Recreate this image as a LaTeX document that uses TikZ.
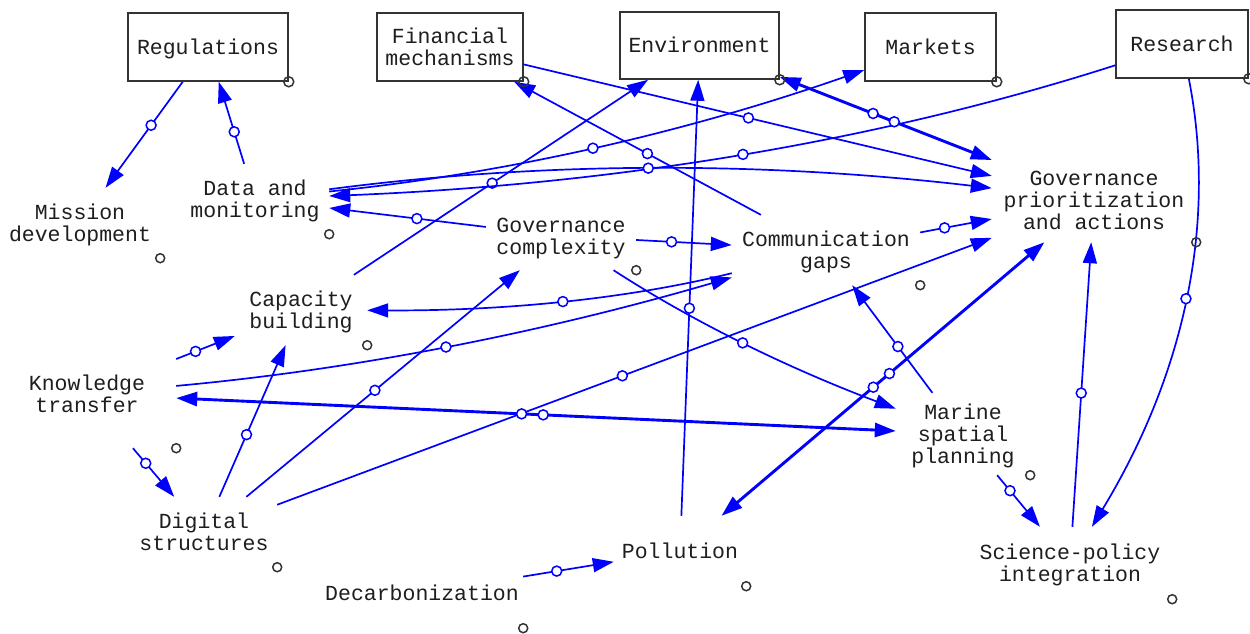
\documentclass[tikz,border=0pt]{standalone}
\usepackage{fontspec}
\setmonofont{Liberation Mono}
\usetikzlibrary{arrows.meta}
\definecolor{linkblue}{RGB}{0,0,255}
\definecolor{boxgray}{RGB}{51,51,51}
\definecolor{textgray}{RGB}{30,30,30}
% centred block of lines with a fixed top margin above the first baseline
\newcommand\varname[1]{\begin{tabular}{@{}c@{}}\rule{0pt}{21.5pt}#1\end{tabular}}

\begin{document}
\begin{tikzpicture}[x=1pt,y=-1pt,
  every node/.style={font=\ttfamily\fontsize{21.5}{22}\selectfont, text=textgray},
  stock/.style={draw=boxgray, line width=1.5pt, fill=white, inner sep=0pt},
  var/.style={inner sep=0pt},
  link/.style={draw=linkblue, line width=1.7pt, -{Triangle[length=21pt,width=14pt]}},
  twoway/.style={draw=linkblue, line width=2.9pt,
    {Triangle[length=21pt,width=14pt]}-{Triangle[length=21pt,width=14pt]}},
  handle/.style={circle, draw=linkblue, fill=white, line width=1.5pt, minimum size=10pt, inner sep=0pt},
  corner/.style={draw=boxgray, line width=1.5pt},
]
\useasboundingbox (0,0) rectangle (1250,633);

% boxed variables along the top
\node[stock, minimum width=160pt, minimum height=68pt] (reg) at (208,47)    {\varname{Regulations}};
\node[stock, minimum width=146pt, minimum height=68pt] (fin) at (450,47)    {\varname{Financial\\mechanisms}};
\node[stock, minimum width=159pt, minimum height=67pt] (env) at (699.5,45.5) {\varname{Environment}};
\node[stock, minimum width=131pt, minimum height=68pt] (mkt) at (930.5,47)  {\varname{Markets}};
\node[stock, minimum width=132pt, minimum height=68pt] (res) at (1182,44)   {\varname{Research}};

% plain variables
\node[var, minimum width=160pt, minimum height=70pt]  (mis) at (80,223)   {\varname{Mission\\development}};
\node[var, minimum width=148pt, minimum height=70pt]  (dat) at (255,199)  {\varname{Data and\\monitoring}};
\node[var, minimum width=150pt, minimum height=68pt]  (gcx) at (561,236)  {\varname{Governance\\complexity}};
\node[var, minimum width=188pt, minimum height=70pt]  (com) at (826,250)  {\varname{Communication\\gaps}};
\node[var, minimum width=204pt, minimum height=84pt]  (gpa) at (1094,200) {\varname{Governance\\prioritization\\and actions}};
\node[var, minimum width=132pt, minimum height=70pt]  (cap) at (301,310)  {\varname{Capacity\\building}};
\node[var, minimum width=178pt, minimum height=108pt] (kno) at (87,394)   {\varname{Knowledge\\transfer}};
\node[var, minimum width=134pt, minimum height=82pt]  (msp) at (963,434)  {\varname{Marine\\spatial\\planning}};
\node[var, minimum width=146pt, minimum height=70pt]  (dig) at (204,532)  {\varname{Digital\\structures}};
\node[var, minimum width=132pt, minimum height=70pt]  (pol) at (680,551)  {\varname{Pollution}};
\node[var, minimum width=202pt, minimum height=70pt]  (dec) at (422,593)  {\varname{Decarbonization}};
\node[var, minimum width=204pt, minimum height=72pt]  (sci) at (1070,563) {\varname{Science-policy\\integration}};

% straight links
\draw[link] (reg) -- node[handle,pos=0.41]{} (mis);
\draw[link] (dat) -- node[handle,pos=0.39]{} (reg);
\draw[link] (fin) -- node[handle,pos=0.48]{} (gpa);
\draw[link] (com) -- node[handle,pos=0.46]{} (fin);
\draw[link] (cap) -- node[handle,pos=0.47]{} (env);
\draw[link] (gcx) -- node[handle,pos=0.44]{} (dat);
\draw[link] (gcx) -- node[handle,pos=0.37]{} (com);
\draw[link] (pol) -- node[handle,pos=0.476]{} (env);
\draw[link] (dig) -- node[handle,pos=0.483]{} (gpa);
\draw[link] (msp) -- node[handle,pos=0.43]{} (com);
\draw[link] (sci) -- node[handle,pos=0.47]{} (gpa);
\draw[link] (msp) -- node[handle,pos=0.3]{} (sci);
\draw[link] (kno) -- node[handle,pos=0.33]{} (cap);
\draw[link] (kno) -- node[handle,pos=0.31]{} (dig);
\draw[link] (dig) -- node[handle,pos=0.41]{} (cap);
\draw[link] (dig) -- node[handle,pos=0.47]{} (gcx);
\draw[link] (dec) -- node[handle,pos=0.37]{} (pol);
\draw[link] (com) -- node[handle,pos=0.34]{} (gpa);

% curved links
\draw[link] (dat) .. controls (502.3,174) and (681,134) .. node[handle,pos=0.5]{} (mkt);
\draw[link] (res) .. controls (881,140.3) and (618.7,184.3) .. node[handle,pos=0.5]{} (dat);
\draw[link] (dat) .. controls (534,162.3) and (754.3,160.3) .. node[handle,pos=0.5]{} (gpa);
\draw[link] (com) .. controls (628.3,298.7) and (506.3,311) .. node[handle,pos=0.5]{} (cap);
\draw[link] (kno) .. controls (350.3,370) and (536.3,334.3) .. node[handle,pos=0.5]{} (com);
\draw[link] (gcx) .. controls (691.3,320.7) and (786,367.3) .. node[handle,pos=0.5]{} (msp);
\draw[link] (res) .. controls (1217,222) and (1185.3,372.7) .. node[handle,pos=0.5]{} (sci);

% two-way links
\draw[twoway] (env) -- node[handle,pos=0.44]{} node[handle,pos=0.54]{} (gpa);
\draw[twoway] (kno) -- node[handle,pos=0.48]{} node[handle,pos=0.51]{} (msp);
\draw[twoway] (pol) -- node[handle,pos=0.47]{} node[handle,pos=0.52]{} (gpa);

% corner markers
\foreach \n in {mis,dat,gcx,com,gpa,cap,kno,msp,dig,pol,dec,sci}
  \draw[corner] (\n.south east) circle[radius=4.5pt];
\foreach \n in {reg,fin,env,mkt,res}
  \draw[corner] (\n.south east) circle[radius=5pt];
\end{tikzpicture}
\end{document}
